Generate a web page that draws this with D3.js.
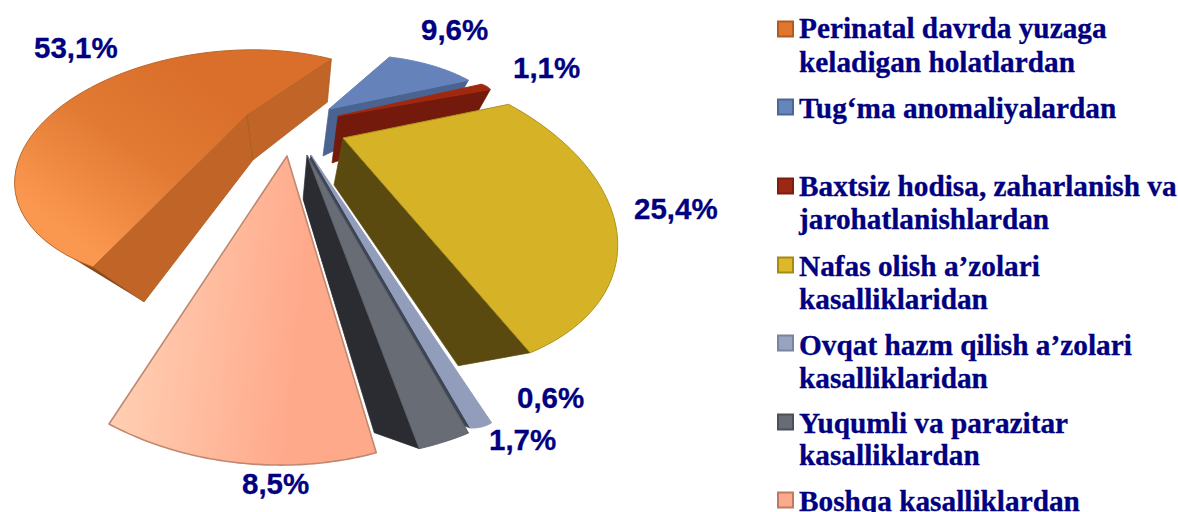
<!DOCTYPE html>
<html><head><meta charset="utf-8">
<script src="https://cdn.jsdelivr.net/npm/d3@7"></script>
<style>html,body{margin:0;padding:0;background:#fff;overflow:hidden}svg{display:block}</style>
</head><body><svg id="c" width="1178" height="512"></svg>
<script>
// ---- data ----
const categories = [
  "Perinatal davrda yuzaga keladigan holatlardan",
  "Tug‘ma anomaliyalardan",
  "Baxtsiz hodisa, zaharlanish va jarohatlanishlardan",
  "Nafas olish a’zolari kasalliklaridan",
  "Ovqat hazm qilish a’zolari kasalliklaridan",
  "Yuqumli va parazitar kasalliklardan",
  "Boshqa kasalliklardan"
];
const values = [53.1, 9.6, 1.1, 25.4, 0.6, 1.7, 8.5];
const valueLabels = ["53,1%", "9,6%", "1,1%", "25,4%", "0,6%", "1,7%", "8,5%"];
const legendLines = [
  ["Perinatal davrda yuzaga", "keladigan holatlardan"],
  ["Tug‘ma anomaliyalardan"],
  ["Baxtsiz hodisa, zaharlanish va", "jarohatlanishlardan"],
  ["Nafas olish a’zolari", "kasalliklaridan"],
  ["Ovqat hazm qilish a’zolari", "kasalliklaridan"],
  ["Yuqumli va parazitar", "kasalliklardan"],
  ["Boshqa kasalliklardan"]
];

// ---- style / layout ----
const topFill   = ["url(#gOrange)", "#6583ba", "#a1280f", "#d6b326", "#919dba", "#676c75", "url(#gPeach)"];
const topStroke = ["#b8682c", "#6583ba", "#a1280f", "#b0921a", "#919dba", "#5a5f68", "#c08870"];
const sideFill  = ["#c06427", "#4a6390", "#731a0c", "#5b4a10", "#3e4554", "#2b2c31", null];
const swatch    = ["#e0772e", "#6585bb", "#9c2715", "#dcb82a", "#97a3bf", "#676c75", "#fbaa8c"];
const swatchBd  = ["#b35a20", "#4c6797", "#7c1d10", "#a88a10", "#7a849c", "#4c5058", "#c07a60"];

// Each wedge is a separately exploded, perspective-distorted sector. A frame calibrates the
// pie plane to the screen: the angles in calDeg land on the apex / start / end / mid anchors.
const calDeg = [[0,190.97],[190.97,225.5],[225.5,229.45],[229.45,320.8],[320.8,322.96],[322.96,329.07],[329.07,360]];
const frames = [
  {apex:[247,115], p0:[93,267],  p1:[331,59],  pm:[113,77],   dA:[6,45],  d0:[51,35], d1:[-4,43]},
  {apex:[329,109], p0:[389,57],  p1:[468,80],  pm:[430,65],   dA:[-6,47], d1:[-5,9]},
  {apex:[338,116], p0:[481,84],  p1:[490,89],  pm:[486,86],   dA:[-6,47], d1:[-13,23]},
  {apex:[343,138], p0:[508,104], p1:[532,352], pm:[610,206],  dA:[-9,47], d1:[-72,13]},
  {apex:[311,155], p0:[494,421], p1:[474,428], pm:[485,426],  dA:[-2,8],  d1:[-9,-3]},
  {apex:[307,155], p0:[471,432], p1:[422,448], pm:[447,441],  dA:[-4,45], d1:[-45,-16]},
  {apex:[287,156], p0:[379,452], p1:[109,424], pm:[240,463]}
];
const labelPos = [[34,58],[421,40],[513,78],[634,219],[517,408],[489,450],[242,494]];
const legendSwatchY = [29,107,186,265,343,422,500];
const legendBaseY = [[38,72],[118],[196,229],[276,309],[355,388],[433,465],[511]];

// ---- helpers ----
function solve(A, b) {
  const n = b.length, M = A.map((r, i) => [...r, b[i]]);
  for (let c = 0; c < n; c++) {
    let p = c; for (let r = c + 1; r < n; r++) if (Math.abs(M[r][c]) > Math.abs(M[p][c])) p = r;
    [M[c], M[p]] = [M[p], M[c]];
    for (let r = 0; r < n; r++) if (r !== c) {
      const f = M[r][c] / M[c][c];
      for (let k = c; k <= n; k++) M[r][k] -= f * M[c][k];
    }
  }
  return M.map((r, i) => r[n] / r[i]);
}
const plane = a => [Math.sin(a), -Math.cos(a)];
const rad = d => d * Math.PI / 180;
function homography(src, dst) {
  const A = [], b = [];
  src.forEach(([u, v], i) => {
    const [x, y] = dst[i];
    A.push([u, v, 1, 0, 0, 0, -u * x, -v * x]); b.push(x);
    A.push([0, 0, 0, u, v, 1, -u * y, -v * y]); b.push(y);
  });
  const h = solve(A, b);
  return ([u, v]) => {
    const w = h[6] * u + h[7] * v + 1;
    return [(h[0] * u + h[1] * v + h[2]) / w, (h[3] * u + h[4] * v + h[5]) / w];
  };
}
const add = (p, d) => [p[0] + d[0], p[1] + d[1]];

// ---- drawing ----
const svg = d3.select("#c");
const defs = svg.append("defs");
const gO = defs.append("linearGradient").attr("id", "gOrange").attr("gradientUnits", "userSpaceOnUse")
  .attr("x1", 250).attr("y1", 70).attr("x2", 110).attr("y2", 265);
gO.append("stop").attr("offset", 0.15).attr("stop-color", "#d96f2a");
gO.append("stop").attr("offset", 0.55).attr("stop-color", "#e27a34");
gO.append("stop").attr("offset", 1).attr("stop-color", "#fb9850");
const gP = defs.append("linearGradient").attr("id", "gPeach").attr("gradientUnits", "userSpaceOnUse")
  .attr("x1", 120).attr("y1", 300).attr("x2", 300).attr("y2", 320);
gP.append("stop").attr("offset", 0).attr("stop-color", "#ffd0b4");
gP.append("stop").attr("offset", 1).attr("stop-color", "#ffa98b");

const arcs = d3.pie().sort(null).startAngle(0).endAngle(2 * Math.PI)(values);
const line = d3.line();
const poly = d3.line().curve(d3.curveLinearClosed);

const slices = svg.append("g");
arcs.forEach((d, i) => {
  const f = frames[i], cal = calDeg[i].map(rad);
  const proj = homography(
    [[0, 0], plane(cal[0]), plane(cal[1]), plane((cal[0] + cal[1]) / 2)],
    [f.apex, f.p0, f.p1, f.pm]);
  const g = slices.append("g");
  const apex = proj([0, 0]);
  const e0 = proj(plane(d.startAngle)), e1 = proj(plane(d.endAngle));

  // side walls, extruded below the top face
  if (f.d0) {
    g.append("path").attr("d", poly([apex, e0, add(e0, f.d0), add(apex, f.dA)]))
      .attr("fill", sideFill[i]).attr("stroke", "#a9581f").attr("stroke-width", 0.7);
    // thin sliver of the outer wall
    const t = proj(plane(d.startAngle + rad(5)));
    g.append("path").attr("d", poly([t, e0, add(e0, f.d0)])).attr("fill", "#8a4a1c");
  }
  if (f.d1) {
    g.append("path").attr("d", poly([apex, e1, add(e1, f.d1), add(apex, f.dA)]))
      .attr("fill", sideFill[i]).attr("stroke", i === 0 ? "#a9581f" : sideFill[i]).attr("stroke-width", 0.7);
  }
  // top face from the pie angles
  const pts = d3.range(0, 61).map(k => proj(plane(d.startAngle + (d.endAngle - d.startAngle) * k / 60)));
  const top = line([apex, ...pts]) + "Z";
  if (i === 6) {
    // white keyline separating the peach wedge from the dark wedge behind it
    g.append("path").attr("d", line([apex, e0])).attr("fill", "none").attr("stroke", "#fff").attr("stroke-width", 5);
  }
  g.append("path").attr("d", top)
    .attr("fill", topFill[i]).attr("stroke", topStroke[i]).attr("stroke-width", i === 6 ? 1.6 : 1)
    .attr("stroke-linejoin", "round");
});

svg.append("g").selectAll("text").data(valueLabels).join("text")
  .attr("x", (d, i) => labelPos[i][0]).attr("y", (d, i) => labelPos[i][1])
  .attr("font-family", "'Liberation Sans',Arial,sans-serif").attr("font-weight", 700)
  .attr("font-size", 29.5).attr("fill", "#000080").attr("stroke", "#000080").attr("stroke-width", 0.3).text(d => d);

const leg = svg.append("g").selectAll("g").data(categories).join("g").attr("aria-label", d => d);
leg.append("rect").attr("x", 778).attr("y", (d, i) => legendSwatchY[i] - 7.5).attr("width", 15).attr("height", 15)
  .attr("fill", (d, i) => swatch[i]).attr("stroke", (d, i) => swatchBd[i]).attr("stroke-width", 2);
leg.each(function (d, i) {
  d3.select(this).selectAll("text").data(legendLines[i]).join("text")
    .attr("x", 799).attr("y", (l, k) => legendBaseY[i][k])
    .attr("font-family", "'Liberation Serif','Times New Roman',serif").attr("font-weight", 700)
    .attr("font-size", 29.3).attr("fill", "#000080").attr("stroke", "#000080").attr("stroke-width", 0.3).text(l => l);
});
</script></body></html>
